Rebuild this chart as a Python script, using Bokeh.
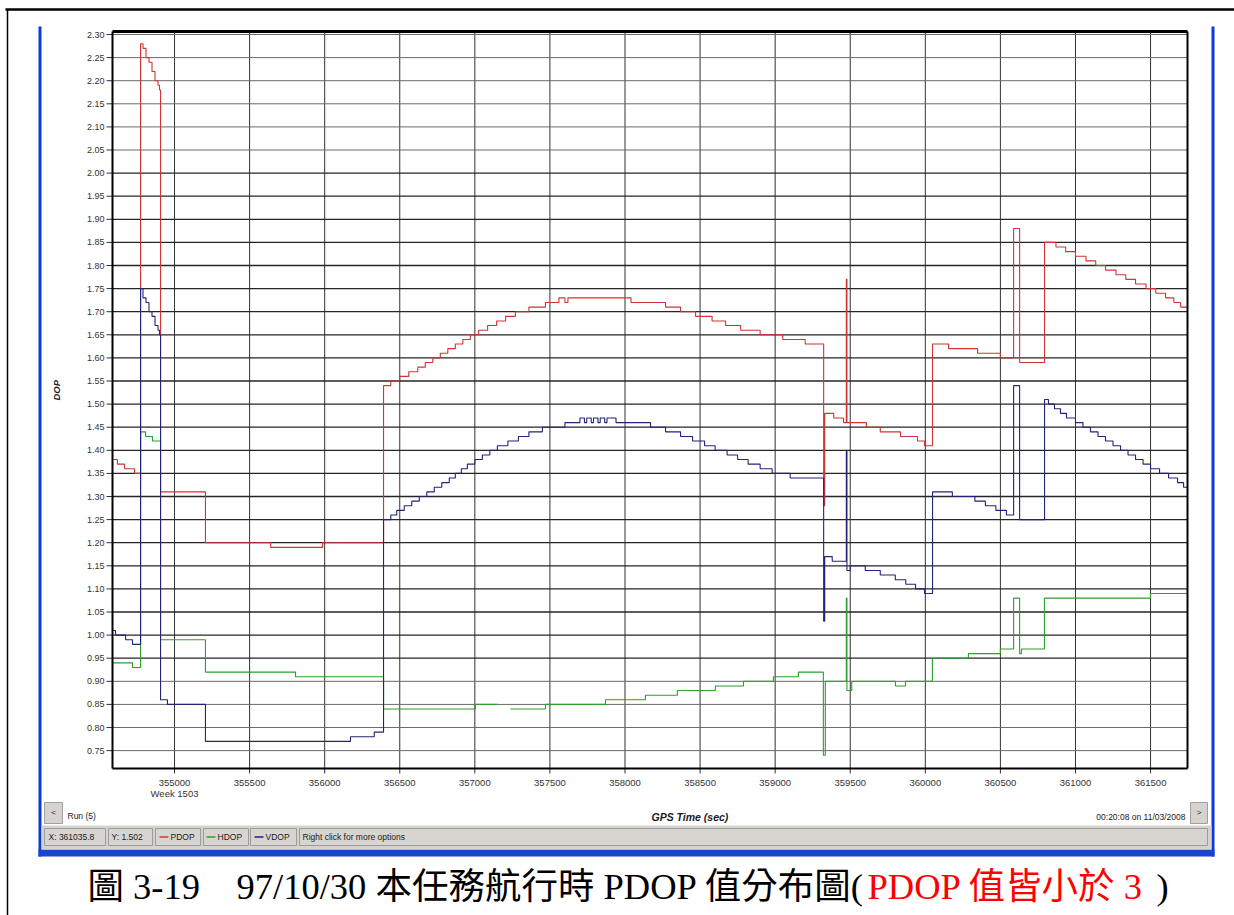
import math
from bokeh.plotting import figure
from bokeh.models import Range1d, Grid
from bokeh.core.properties import value
from bokeh.embed import file_html
from bokeh.resources import INLINE

NAN = float("nan")

# ---------------- data ----------------
X_TICKS = [355000, 355500, 356000, 356500, 357000, 357500, 358000,
           358500, 359000, 359500, 360000, 360500, 361000, 361500]
X_TICK_LABELS = ["355000", "355500", "356000", "356500", "357000", "357500", "358000",
                 "358500", "359000", "359500", "360000", "360500", "361000", "361500"]
X_SUBLABEL = "Week 1503"
Y_TICK_LABELS = ["0.75", "0.80", "0.85", "0.90", "0.95", "1.00", "1.05", "1.10",
                 "1.15", "1.20", "1.25", "1.30", "1.35", "1.40", "1.45", "1.50",
                 "1.55", "1.60", "1.65", "1.70", "1.75", "1.80", "1.85", "1.90",
                 "1.95", "2.00", "2.05", "2.10", "2.15", "2.20", "2.25", "2.30"]
Y_DARK_LABELS = ["0.95", "1.00", "1.05", "1.10", "1.15", "1.20", "1.25", "1.30",
                 "1.35", "1.40", "1.45", "1.50", "1.55", "1.60", "1.65", "1.70",
                 "1.75", "1.80", "1.85", "1.90", "1.95", "2.00"]

T_MIN, T_MAX = 354587, 361746
V_MIN, V_MAX = 0.7113, 2.3065

PDOP_T = [354587, 354620, 354667, 354734, 354774, 354790, 354810, 354830, 354850, 354870, 354890, 354900, 354907,
          355206, 355640, 355986, 356392, 356440, 356500, 356560, 356620, 356670, 356720, 356770, 356820, 356870,
          356920, 356970, 357025, 357085, 357145, 357205, 357270, 357360, 357470, 357560, 357600, 357620, 358040,
          358270, 358370, 358470, 358580, 358670, 358770, 358900, 359050, 359200, 359323, 359330, 359390, 359455,
          359474, 359478, 359608, 359700, 359835, 359948, 359995, 360048, 360155, 360348, 360500, 360588, 360628,
          360794, 360870, 360935, 361000, 361070, 361135, 361200, 361270, 361335, 361400, 361470, 361535, 361600,
          361655, 361700, 361746]
PDOP_V = [1.38, 1.37, 1.36, 1.35, 2.28, 2.27, 2.25, 2.24, 2.22, 2.20, 2.19, 2.18, 1.31,
          1.20, 1.19, 1.20, 1.54, 1.55, 1.56, 1.57, 1.58, 1.59, 1.60, 1.61, 1.62, 1.63,
          1.64, 1.65, 1.66, 1.67, 1.68, 1.69, 1.70, 1.71, 1.72, 1.73, 1.72, 1.73, 1.72,
          1.71, 1.70, 1.69, 1.68, 1.67, 1.66, 1.65, 1.64, 1.63, 1.28, 1.48, 1.47, 1.46,
          1.77, 1.46, 1.45, 1.44, 1.43, 1.42, 1.41, 1.63, 1.62, 1.61, 1.60, 1.88, 1.59,
          1.85, 1.84, 1.83, 1.82, 1.81, 1.80, 1.79, 1.78, 1.77, 1.76, 1.75, 1.74, 1.73,
          1.72, 1.71, 1.71]

VDOP_T = [354587, 354607, 354674, 354720, 354774, 354790, 354810, 354830, 354850, 354870, 354890, 354900, 354907,
          354953, 355206, 356172, 356330, 356392, 356440, 356480, 356530, 356580, 356630, 356680, 356730, 356780,
          356830, 356870, 356910, 356950, 357000, 357050, 357100, 357150, 357220, 357290, 357360, 357450, 357600,
          357700, 357730, 357745, 357775, 357790, 357820, 357835, 357865, 357880, 357940, 358170, 358270, 358370,
          358450, 358530, 358600, 358680, 358750, 358820, 358900, 358980, 359100, 359323, 359330, 359380, 359474,
          359478, 359500, 359600, 359700, 359800, 359870, 359935, 359995, 360048, 360180, 360330, 360400, 360470,
          360540, 360588, 360628, 360794, 360820, 360860, 360900, 360940, 361000, 361050, 361100, 361150, 361200,
          361250, 361300, 361350, 361400, 361450, 361500, 361560, 361620, 361680, 361720, 361746]
VDOP_V = [1.01, 1.00, 0.99, 0.98, 1.75, 1.73, 1.72, 1.70, 1.69, 1.67, 1.66, 1.65, 0.86,
          0.85, 0.77, 0.78, 0.79, 1.25, 1.26, 1.27, 1.28, 1.29, 1.30, 1.31, 1.32, 1.33,
          1.34, 1.35, 1.36, 1.37, 1.38, 1.39, 1.40, 1.41, 1.42, 1.43, 1.44, 1.45, 1.46,
          1.47, 1.46, 1.47, 1.46, 1.47, 1.46, 1.47, 1.46, 1.47, 1.46, 1.45, 1.44, 1.43,
          1.42, 1.41, 1.40, 1.39, 1.38, 1.37, 1.36, 1.35, 1.34, 1.03, 1.17, 1.16, 1.40,
          1.14, 1.15, 1.14, 1.13, 1.12, 1.11, 1.10, 1.09, 1.31, 1.30, 1.29, 1.28, 1.27,
          1.26, 1.54, 1.25, 1.51, 1.50, 1.49, 1.48, 1.47, 1.46, 1.45, 1.44, 1.43, 1.42,
          1.41, 1.40, 1.39, 1.38, 1.37, 1.36, 1.35, 1.34, 1.33, 1.32, 1.32]

HDOP_T = [354587, 354720, 354774, 354807, 354853, 354907, 355206, 355806, 356392, 357004, 357151, 357237, 357470,
          357870, 358136, 358349, 358602, 358789, 358988, 359155, 359321, 359334, 359474, 359478, 359510, 359801,
          359868, 360047, 360287, 360500, 360588, 360628, 360640, 360793, 361499, 361746]
HDOP_V = [0.94, 0.93, 1.44, 1.43, 1.42, 0.99, 0.92, 0.91, 0.84, 0.85, NAN, 0.84, 0.85,
          0.86, 0.87, 0.88, 0.89, 0.90, 0.91, 0.92, 0.74, 0.90, 1.08, 0.88, 0.90, 0.89,
          0.90, 0.95, 0.96, 0.97, 1.08, 0.96, 0.97, 1.08, 1.09, 1.09]

SERIES = [("PDOP", PDOP_T, PDOP_V, "#d03434"),
          ("HDOP", HDOP_T, HDOP_V, "#2ca02c"),
          ("VDOP", VDOP_T, VDOP_V, "#23237c")]

STATUS_X = "X: 361035.8"
STATUS_Y = "Y: 1.502"
STATUS_MSG = "Right click for more options"
RUN_TEXT = "Run (5)"
DATE_TEXT = "00:20:08 on 11/03/2008"
X_TITLE = "GPS Time (sec)"
Y_TITLE = "DOP"
CAPTION_A = "圖 3-19　97/10/30 本任務航行時 PDOP 值分布圖("
CAPTION_B = "PDOP 值皆小於 3"
CAPTION_C = ")"

# ---------------- layout (page pixel coordinates) ----------------
C_L, C_R, C_T, C_B = 0, 1234, 0, 915          # canvas in page coords
F_L, F_R, F_T, F_B = 112, 1187, 31, 768       # plot frame in page coords

kx = (T_MAX - T_MIN) / (F_R - F_L)
ky = (V_MAX - V_MIN) / (F_B - F_T)
x_range = Range1d(T_MIN - (F_L - C_L) * kx, T_MAX + (C_R - F_R) * kx)
y_range = Range1d(V_MIN - (C_B - F_B) * ky, V_MAX + (F_T - C_T) * ky)

p = figure(width=C_R - C_L, height=C_B - C_T, x_range=x_range, y_range=y_range,
           output_backend="svg", toolbar_location=None, min_border=0,
           x_axis_location=None, y_axis_location=None, outline_line_color=None,
           background_fill_color="white", border_fill_color="white")
p.center = [c for c in p.center if not isinstance(c, Grid)]
p.extra_x_ranges = {"px": Range1d(C_L, C_R)}
p.extra_y_ranges = {"py": Range1d(C_B, C_T)}

SANS = value("Liberation Sans")
PX = dict(x_range_name="px", y_range_name="py")


def box(l, t, r, b, fill, line=None, lw=1):
    p.quad(left=[l], right=[r], top=[t], bottom=[b], fill_color=fill,
           line_color=line, line_width=lw, **PX)


def txt(x, y, s, size, color="#1a1a1a", align="left", style="normal", font=SANS, angle=0.0):
    p.text(x=[x], y=[y], text=[s], text_font=font, text_font_size=value(f"{size}px"),
           text_color=color, text_align=align, text_baseline="middle",
           text_font_style=style, angle=angle, **PX)


# page frame lines
p.segment(x0=[5], y0=[9], x1=[C_R], y1=[9], line_color="black", line_width=2.5, **PX)
p.segment(x0=[7], y0=[9], x1=[7], y1=[C_B], line_color="black", line_width=1.5, **PX)

# window frame (blue)
BLUE = "#0b3bd6"
box(38, 26, 41, 856, BLUE)
box(1211, 26, 1214, 856, BLUE)
box(38, 849, 1214, 856, "#1845cf")

# status bar
box(41, 825, 1211, 849, "#d6d3ce")
for l, r in [(44, 105), (108, 152), (155, 200), (203, 248), (250, 296), (299, 1207)]:
    box(l, 828, r, 845, "#d8d5d0", "#9c9c9c", 1)
txt(48, 836.5, STATUS_X, 8.5)
txt(111, 836.5, STATUS_Y, 8.5)
dash_x = [(159, 168, 170), (206, 215, 217), (254, 263, 265)]
for (a, b, tx), (name, _, _, col) in zip(dash_x, SERIES):
    p.segment(x0=[a], y0=[836.5], x1=[b], y1=[836.5], line_color=col, line_width=1.5, **PX)
    txt(tx, 836.5, name, 8.5)
txt(302, 836.5, STATUS_MSG, 8.5)

# buttons and texts under the plot
box(44, 802, 62, 823, "#d6d3ce", "#a0a0a0")
box(1190, 802, 1207, 823, "#d6d3ce", "#a0a0a0")
txt(53, 812, "<", 8, align="center")
txt(1198.5, 812, ">", 8, align="center")
txt(67, 815, RUN_TEXT, 8.5)
txt(1185, 816, DATE_TEXT, 8.5, align="right")
txt(651, 816, X_TITLE, 10.5, style="bold italic")
txt(56, 400, Y_TITLE, 9.5, style="bold italic", angle=math.pi / 2)

# grid lines (inside the plot frame only)
Y_TICKS = [float(s) for s in Y_TICK_LABELS]
Y_DARK = [float(s) for s in Y_DARK_LABELS]
Y_LIGHT = [v for v in Y_TICKS if v not in Y_DARK]
nx, nd, nl = len(X_TICKS), len(Y_DARK), len(Y_LIGHT)
p.segment(x0=X_TICKS, x1=X_TICKS, y0=[V_MIN] * nx, y1=[V_MAX] * nx,
          line_color="#333333", line_width=1)
p.segment(x0=[T_MIN] * nd, x1=[T_MAX] * nd, y0=Y_DARK, y1=Y_DARK,
          line_color="#262626", line_width=1.3)
p.segment(x0=[T_MIN] * nl, x1=[T_MAX] * nl, y0=Y_LIGHT, y1=Y_LIGHT,
          line_color="#6a6a6a", line_width=1)

# tick marks + tick labels
ny = len(Y_TICKS)
p.segment(x0=[F_L - 6] * ny, x1=[F_L] * ny, y0=Y_TICKS, y1=Y_TICKS,
          line_color="#333333", line_width=1, x_range_name="px")
p.text(x=[F_L - 8] * ny, y=Y_TICKS, text=Y_TICK_LABELS, text_font=SANS,
       text_font_size=value("9px"), text_color="#333333", text_align="right",
       text_baseline="middle", x_range_name="px")
p.segment(x0=X_TICKS, x1=X_TICKS, y0=[F_B] * nx, y1=[F_B + 5] * nx,
          line_color="#333333", line_width=1, y_range_name="py")
p.text(x=X_TICKS, y=[782] * nx, text=X_TICK_LABELS, text_font=SANS,
       text_font_size=value("9.5px"), text_color="#333333", text_align="center",
       text_baseline="middle", y_range_name="py")
p.text(x=[X_TICKS[0]], y=[793], text=[X_SUBLABEL], text_font=SANS,
       text_font_size=value("9.5px"), text_color="#333333", text_align="center",
       text_baseline="middle", y_range_name="py")


# series (step plots)
def steps(ts, vs):
    xs, ys = [], []
    for i in range(len(ts) - 1):
        xs += [ts[i], ts[i + 1]]
        ys += [vs[i], vs[i]]
    return xs, ys


for name, ts, vs, col in SERIES:
    assert len(ts) == len(vs), name
    xs, ys = steps(ts, vs)
    p.line(xs, ys, line_color=col, line_width=1.1)

# plot frame
p.segment(x0=[T_MIN, T_MIN, T_MIN, T_MAX], y0=[V_MIN, V_MAX, V_MIN, V_MIN],
          x1=[T_MAX, T_MAX, T_MIN, T_MAX], y1=[V_MIN, V_MAX, V_MAX, V_MAX],
          line_color="black", line_width=[2, 3, 2, 2])

# caption
CAP_FONT = value("Liberation Serif, Noto Sans CJK TC")
txt(87, 886, CAPTION_A, 36.5, color="black", font=CAP_FONT)
txt(867, 886, CAPTION_B, 36.5, color="#ff0000", font=CAP_FONT)
txt(1156, 886, CAPTION_C, 36.5, color="black", font=CAP_FONT)

open("out.html", "w").write(file_html(p, INLINE))
